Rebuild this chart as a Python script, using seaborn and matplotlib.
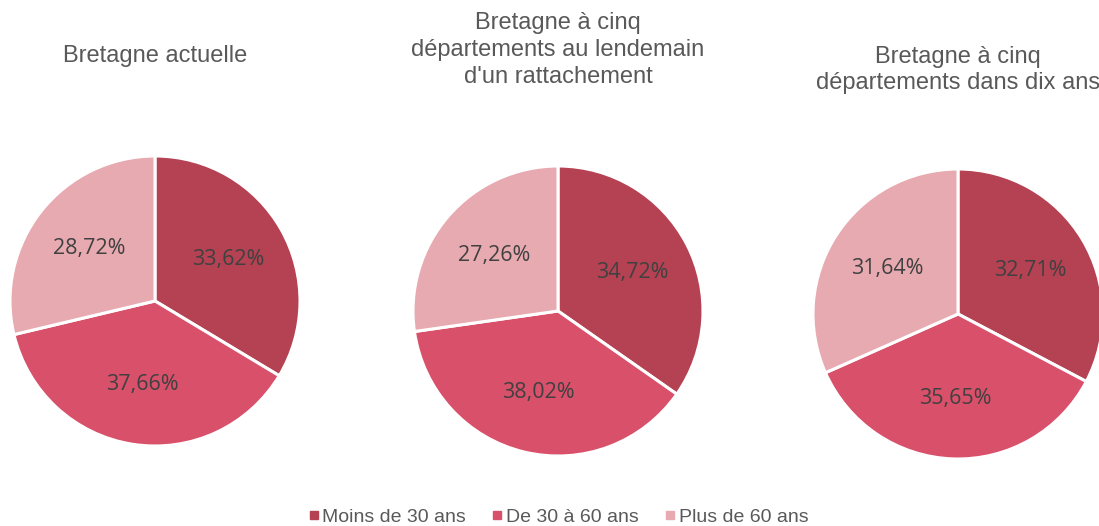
import numpy as np
import pandas as pd
import matplotlib
matplotlib.use('Agg')
import matplotlib.pyplot as plt
from matplotlib.lines import Line2D
import seaborn as sns

# data
categories = ['Moins de 30 ans', 'De 30 à 60 ans', 'Plus de 60 ans']
titles = ['Bretagne actuelle',
          'Bretagne à cinq\ndépartements au lendemain\nd\'un rattachement',
          'Bretagne à cinq\ndépartements dans dix ans']
actuelle = [33.62, 37.66, 28.72]
lendemain = [34.72, 38.02, 27.26]
dix_ans = [32.71, 35.65, 31.64]

sns.set_theme(style='white')
plt.rcParams['font.family'] = ['Liberation Sans', 'DejaVu Sans']

colors = ['#B44253', '#D9506A', '#E8AAB1']
_W, _H = 1099, 526
_r = 145
# pie centres, in pixels from top-left
centres = [(155, 301), (558, 311), (958, 314)]
title_y = [56, 50, 70]

fig = plt.figure(figsize=(_W/100, _H/100), dpi=100)

def fmt(p):
	return f'{p:.2f}%'.replace('.', ',')

for vals, (cx, cy), tt, ty in zip([actuelle, lendemain, dix_ans], centres, titles, title_y):
	ax = fig.add_axes([(cx-_r)/_W, 1-(cy+_r)/_H, 2*_r/_W, 2*_r/_H])
	wedges, texts, autotexts = ax.pie(vals, colors=colors, startangle=90, counterclock=False,
	                                  autopct=fmt, pctdistance=0.58, radius=1,
	                                  wedgeprops=dict(edgecolor='white', linewidth=2.2),
	                                  textprops=dict(color='#404040', fontsize=15.5, family=['Open Sans', 'DejaVu Sans']))
	ax.set_xlim(-1, 1)
	ax.set_ylim(-1, 1)
	ax.set_axis_off()
	fig.text(cx/_W, 1-ty/_H, tt, ha='center', va='center', fontsize=17,
	         color='#595959', linespacing=1.28)

handles = [Line2D([], [], marker='s', linestyle='', markersize=5.5, color=c) for c in colors]
fig.legend(handles, categories, loc='center', bbox_to_anchor=(558/_W, 1-517/_H), ncol=3,
           frameon=False, fontsize=14, labelcolor='#595959', handletextpad=0.15,
           columnspacing=1.3, handlelength=0.6)

fig.savefig('out.png', dpi=100)
